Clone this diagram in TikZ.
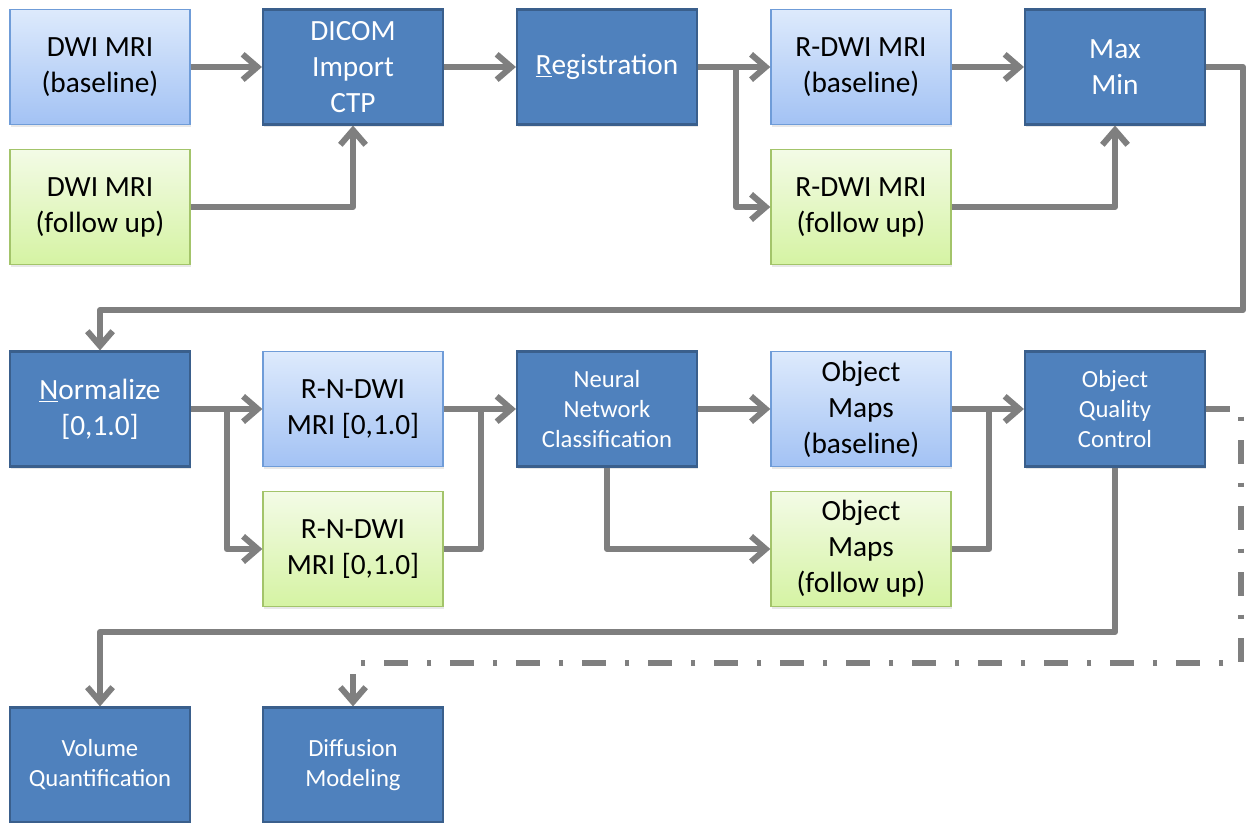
\documentclass[tikz,border=0pt]{standalone}
\usepackage{fontspec}
\setmainfont{Carlito}
\usetikzlibrary{arrows.meta,shadows,calc}
\definecolor{dkfill}{HTML}{4F81BD}
\definecolor{dkdraw}{HTML}{3A5F8C}
\definecolor{lbtop}{HTML}{DDEAFC}
\definecolor{lbbot}{HTML}{A3C2F4}
\definecolor{lbdraw}{HTML}{6F9CD8}
\definecolor{lgtop}{HTML}{F3FBE6}
\definecolor{lgbot}{HTML}{D5F3A3}
\definecolor{lgdraw}{HTML}{A3C46A}
\definecolor{conncol}{HTML}{7F7F7F}
\tikzset{
  box/.style={minimum width=135pt, minimum height=86.25pt, align=center, inner sep=2pt,
    drop shadow={opacity=0.18, shadow xshift=1pt, shadow yshift=-2pt}},
  darkbox/.style={box, fill=dkfill, draw=dkdraw, line width=1.6pt, text=white},
  bluebox/.style={box, top color=lbtop, bottom color=lbbot, draw=lbdraw, line width=1pt, text=black},
  greenbox/.style={box, top color=lgtop, bottom color=lgbot, draw=lgdraw, line width=1pt, text=black},
  big/.style={font=\fontsize{22pt}{27pt}\selectfont},
  small/.style={font=\fontsize{18.5pt}{22.5pt}\selectfont},
  line/.style={draw=conncol, line width=4.5pt, line join=round},
  conn/.style={line, -{Straight Barb[length=11pt, width=19pt]}},
  ddline/.style={conn, dash pattern=on 18pt off 14pt on 3.5pt off 14pt}
}
\begin{document}
\begin{tikzpicture}[x=0.75pt, y=-0.75pt]
\useasboundingbox (0,0) rectangle (1254,823);
% row 1
\node[bluebox, big] (dwib) at (100,67) {DWI MRI\\(baseline)};
\node[greenbox, big] (dwif) at (100,207) {DWI MRI\\(follow up)};
\node[darkbox, big] (dicom) at (353,67) {DICOM\\Import\\CTP};
\node[darkbox, big] (reg) at (607,67) {\underline{R}egistration};
\node[bluebox, big] (rdb) at (861,67) {R-DWI MRI\\(baseline)};
\node[greenbox, big] (rdf) at (861,207) {R-DWI MRI\\(follow up)};
\node[darkbox, big] (mm) at (1115,67) {Max\\Min};
% row 2
\node[darkbox, big] (norm) at (100,409) {\underline{N}ormalize\\{[0,1.0]}};
\node[bluebox, big] (rnb) at (353,409) {R-N-DWI\\MRI [0,1.0]};
\node[greenbox, big] (rnf) at (353,549) {R-N-DWI\\MRI [0,1.0]};
\node[darkbox, small] (nn) at (607,409) {Neural\\Network\\Classification};
\node[bluebox, big] (omb) at (861,409) {Object\\Maps\\(baseline)};
\node[greenbox, big] (omf) at (861,549) {Object\\Maps\\(follow up)};
\node[darkbox, small] (oqc) at (1115,409) {Object\\Quality\\Control};
% row 3
\node[darkbox, small] (vq) at (100,765) {Volume\\Quantification};
\node[darkbox, small] (dm) at (353,765) {Diffusion\\Modeling};
% helper coordinates
\coordinate (loop1) at (1243,310);
\coordinate (loop2) at (0,632);
\coordinate (loop3) at (1241,663);
% connectors row 1
\draw[conn] (dwib.east) -- (dicom.west);
\draw[conn] (dwif.east) -| (dicom.south);
\draw[conn] (dicom.east) -- (reg.west);
\draw[conn] (reg.east) -- (rdb.west);
\draw[conn] ($(reg.east)!0.53!(rdb.west)$) |- (rdf.west);
\draw[conn] (rdb.east) -- (mm.west);
\draw[conn] (rdf.east) -| (mm.south);
\draw[conn] (mm.east) -| (loop1) -| (norm.north);
% connectors row 2
\draw[conn] (norm.east) -- (rnb.west);
\draw[conn] ($(norm.east)!0.5!(rnb.west)$) |- (rnf.west);
\draw[conn] (rnb.east) -- (nn.west);
\draw[line] (rnf.east) -| ($(rnb.east)!0.51!(nn.west)$);
\draw[conn] (nn.east) -- (omb.west);
\draw[conn] (nn.south) |- (omf.west);
\draw[conn] (omb.east) -- (oqc.west);
\draw[line] (omf.east) -| ($(omb.east)!0.52!(oqc.west)$);
% to row 3
\draw[conn] (oqc.south) -- (oqc.south |- loop2) -| (vq.north);
\draw[ddline] (oqc.east) -| (loop3) -| (dm.north);
\end{tikzpicture}
\end{document}
